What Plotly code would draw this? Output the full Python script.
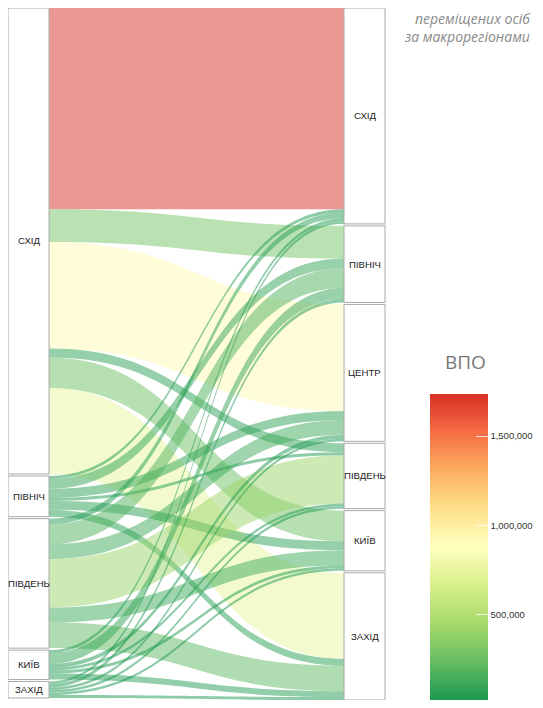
import plotly.graph_objects as go
import plotly.colors as pc

# ---- data ----
source_regions = ["СХІД", "ПІВНІЧ", "ПІВДЕНЬ", "КИЇВ", "ЗАХІД"]
target_regions = ["СХІД", "ПІВНІЧ", "ЦЕНТР", "ПІВДЕНЬ", "КИЇВ", "ЗАХІД"]

# flows from each source region to target regions (same order as target_regions)
from_east = [1736000, 281000, 919000, 77000, 264000, 740000]
from_north = [26000, 85000, 77000, 26000, 77000, 60000]
from_south = [51000, 170000, 128000, 417000, 130000, 220000]
from_kyiv = [26000, 94000, 34000, 22000, 26000, 51000]
from_west = [22000, 30000, 22000, 21500, 22000, 25000]

colorbar_title = "ВПО"
colorbar_ticks = [500000, 1000000, 1500000]
title_text = "переміщених осіб<br>за макрорегіонами"

# ---- build ----
matrix = [from_east, from_north, from_south, from_kyiv, from_west]
scale = [[0, '#1a9850'], [0.125, '#66bd63'], [0.25, '#a6d96a'], [0.375, '#d9ef8b'],
         [0.5, '#ffffbf'], [0.625, '#fee08b'], [0.75, '#fdae61'], [0.875, '#f46d43'],
         [1, '#d73027']]

W_FIG, H_FIG = 527, 692
M = dict(l=0, r=0, t=0, b=0, autoexpand=False)
PW = W_FIG - M['l'] - M['r']
PH = H_FIG - M['t'] - M['b']
DW = 377
dom_x1 = DW / PW
THICK = 41
PAD = 2

ns = len(source_regions)
nt = len(target_regions)
src, tgt, val = [], [], []
for i, row in enumerate(matrix):
    for j, v in enumerate(row):
        src.append(i)
        tgt.append(ns + j)
        val.append(v)

vmin, vmax = min(val), max(val)


def col_for(v, a=0.5):
    t = (v - vmin) / (vmax - vmin)
    c = pc.sample_colorscale(scale, [t], colortype='tuple')[0]
    if isinstance(c, str):
        c = pc.unlabel_rgb(c)
    r, g, b = [float(x) for x in c]
    if max(r, g, b) <= 1.0:
        r, g, b = r * 255, g * 255, b * 255
    return f"rgba({int(round(r))},{int(round(g))},{int(round(b))},{a})"


link_colors = [col_for(v) for v in val]

left_tot = [sum(r) for r in matrix]
right_tot = [sum(c) for c in zip(*matrix)]
T = sum(left_tot)
ky = min((PH - (ns - 1) * PAD) / T, (PH - (nt - 1) * PAD) / T)


def centers(tots):
    out = []
    y = 0.0
    for t in tots:
        h = t * ky
        out.append((y + h / 2) / PH)
        y += h + PAD
    return out


yl = centers(left_tot)
yr = centers(right_tot)
xl = (THICK / 2) / DW
xr = 1 - (THICK / 2) / DW

node_x = [xl] * ns + [xr] * nt
node_y = yl + yr
labels = source_regions + target_regions

fig = go.Figure()
fig.add_trace(go.Sankey(
    arrangement='fixed',
    domain=dict(x=[0, dom_x1], y=[0, 1]),
    node=dict(
        pad=PAD, thickness=THICK,
        label=[""] * len(labels),
        customdata=labels,
        hovertemplate="%{customdata}<extra></extra>",
        x=node_x, y=node_y,
        color="white",
        line=dict(color="rgb(170,170,170)", width=1),
    ),
    link=dict(source=src, target=tgt, value=val, color=link_colors),
))


def px_x(px):
    return (px - M['l']) / PW


def px_y(py):
    return (H_FIG - M['b'] - py) / PH


fig.add_trace(go.Scatter(
    x=[None], y=[None], mode='markers', showlegend=False, hoverinfo='skip',
    marker=dict(
        colorscale=scale, cmin=vmin, cmax=vmax, color=[vmin], showscale=True,
        colorbar=dict(
            x=px_x(422), xanchor='left', xpad=0,
            y=0, yanchor='bottom', ypad=0,
            len=306, lenmode='pixels',
            thickness=58, thicknessmode='pixels',
            outlinewidth=0,
            tickvals=colorbar_ticks, tickformat=',',
            ticks='inside', ticklen=12, tickcolor='rgba(255,255,255,0.75)',
            tickfont=dict(family='Liberation Sans, Arial', size=9.5, color='#333'),
        ),
    ),
))

ann = []
for i, lab in enumerate(labels):
    xc = node_x[i] * DW
    ann.append(dict(
        text=lab, xref='paper', yref='paper',
        x=xc / PW, y=1 - node_y[i], showarrow=False,
        xanchor='center', yanchor='middle',
        font=dict(family='Liberation Sans, Arial', size=9.6, color='#222'),
    ))

ann.append(dict(text=colorbar_title, xref='paper', yref='paper',
                x=px_x(457), y=px_y(354),
                showarrow=False, xanchor='center', yanchor='middle',
                font=dict(family='Open Sans, Noto Sans', size=19, color='#777')))
ann.append(dict(text=title_text, xref='paper', yref='paper',
                x=px_x(525), y=px_y(-1),
                showarrow=False, xanchor='right', yanchor='top', align='right',
                font=dict(family='Open Sans, Noto Sans', size=14, color='#8a8a8a', style='italic')))

fig.update_layout(
    width=W_FIG, height=H_FIG, margin=M,
    paper_bgcolor='white', plot_bgcolor='white',
    xaxis=dict(visible=False), yaxis=dict(visible=False),
    annotations=ann,
    font=dict(family='Liberation Sans, Arial'),
)

fig.write_html("out.html")
